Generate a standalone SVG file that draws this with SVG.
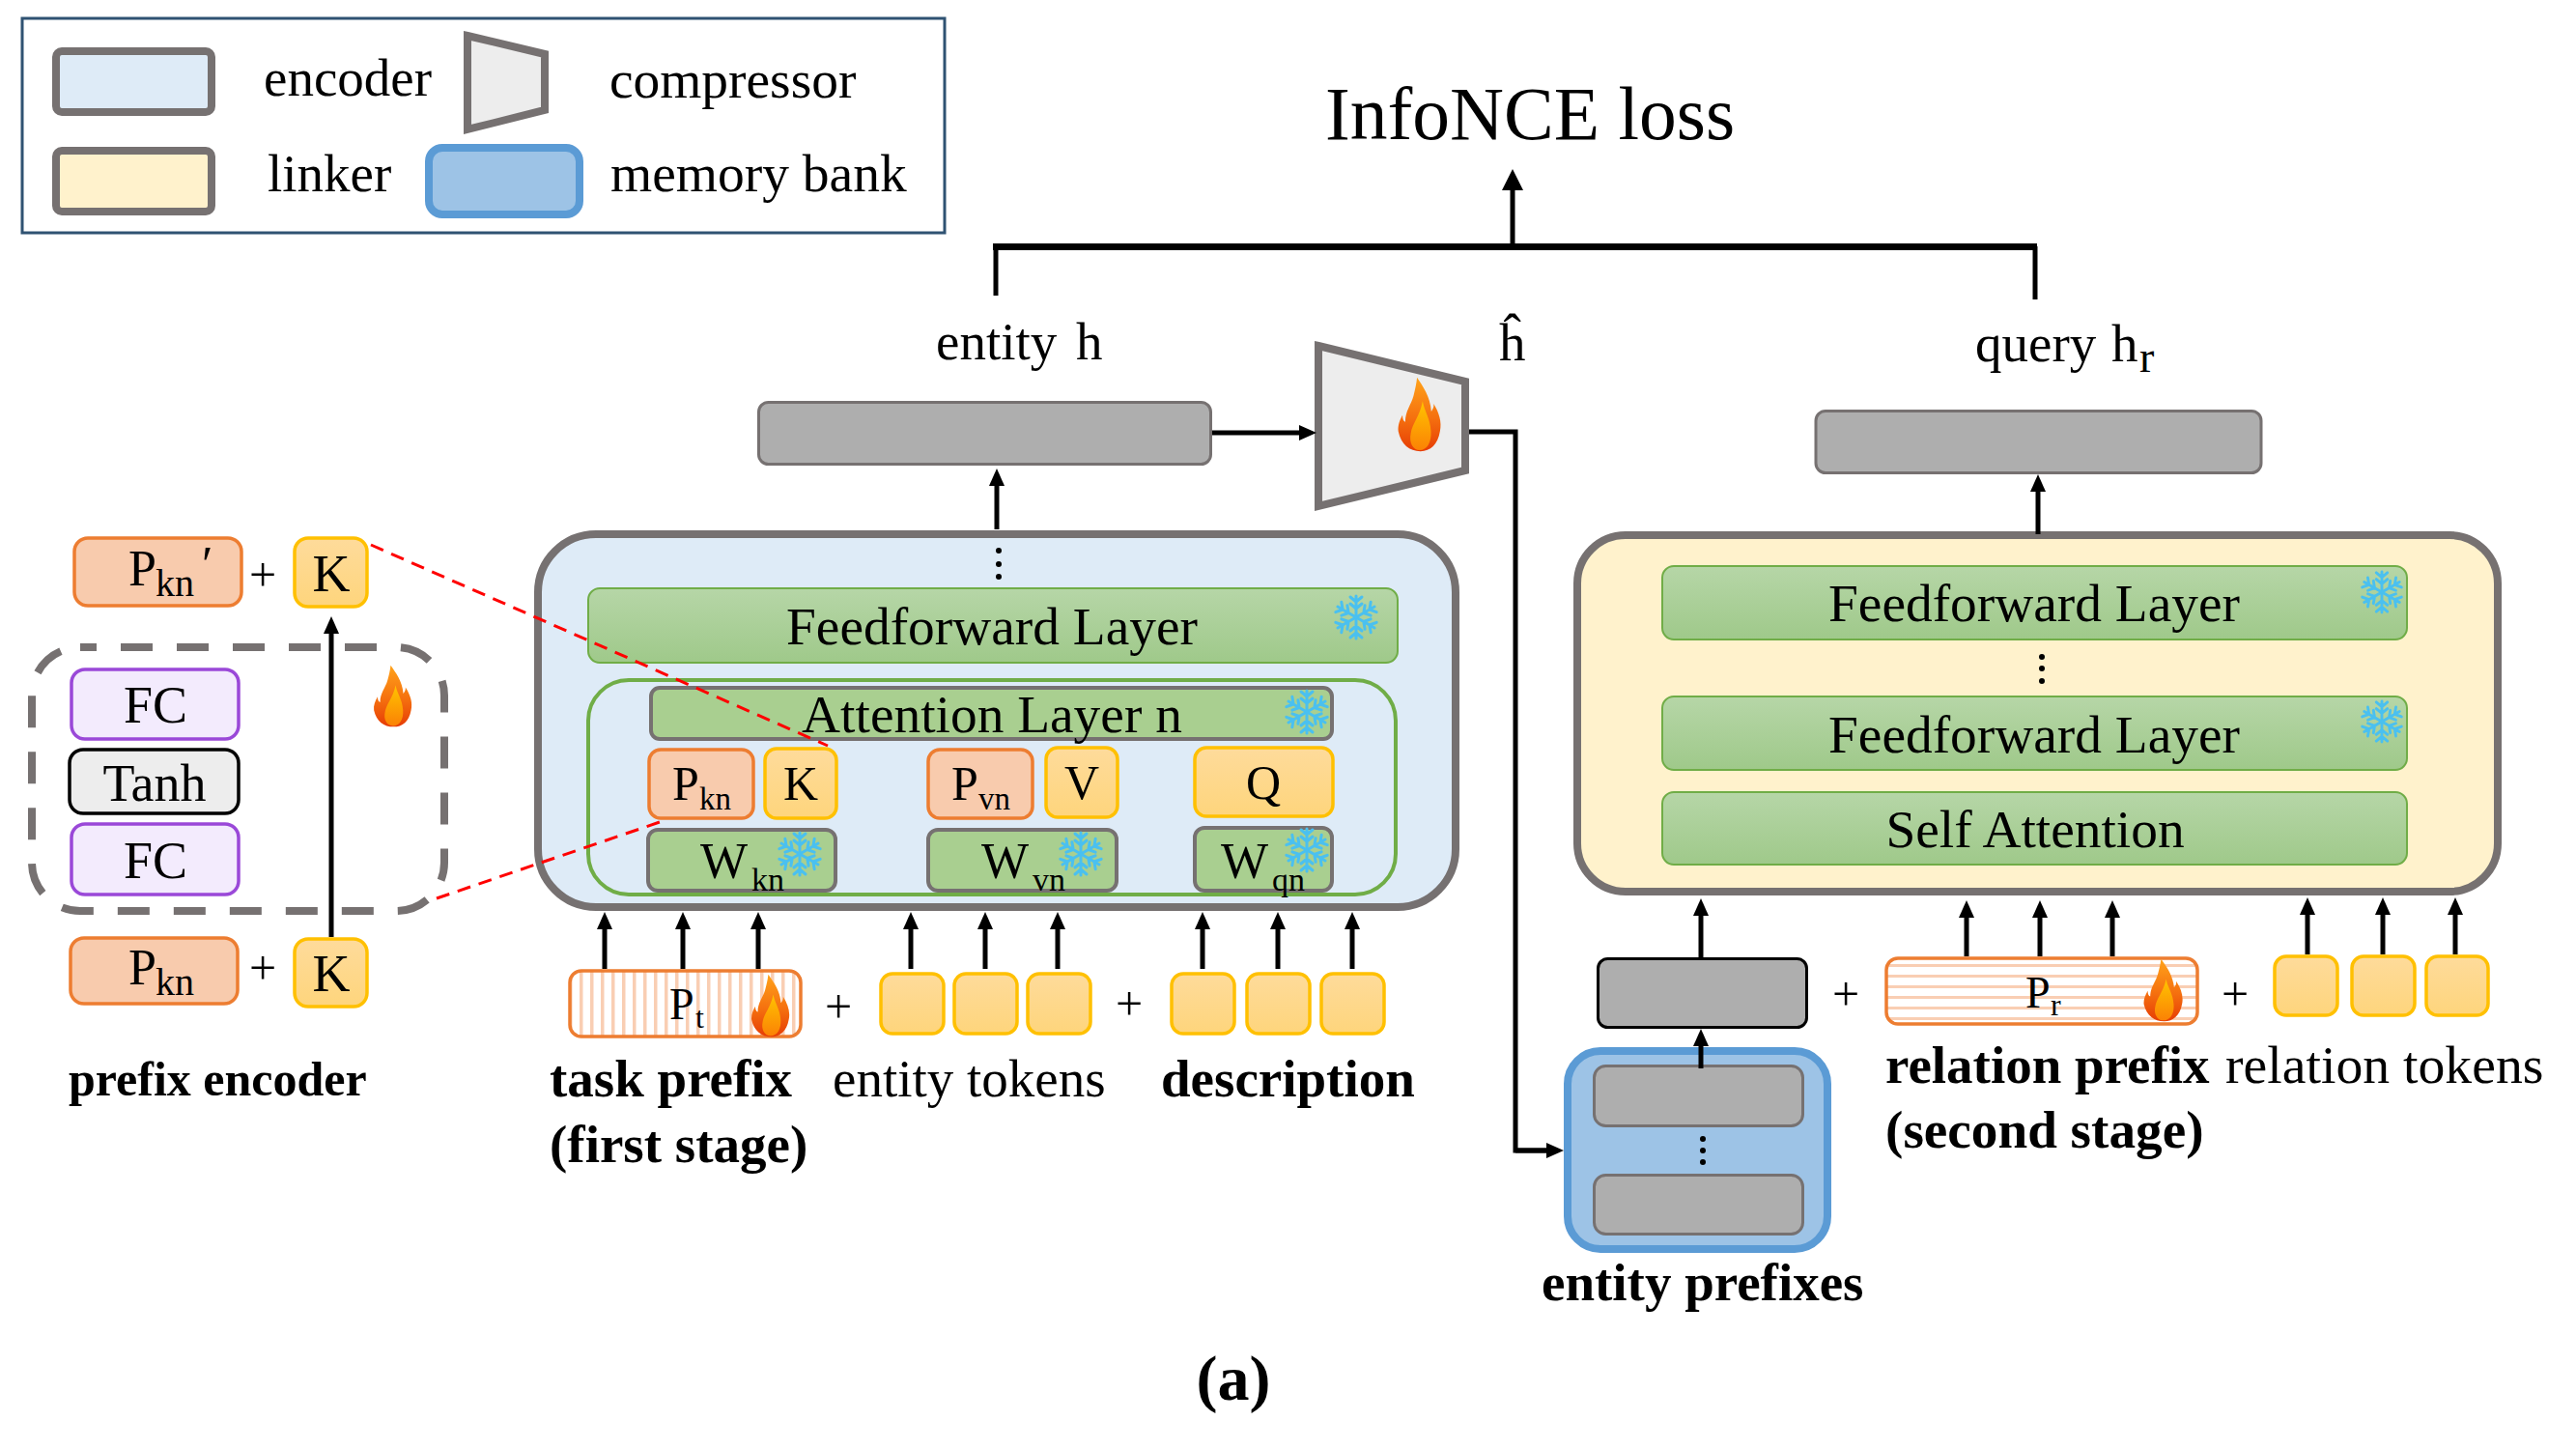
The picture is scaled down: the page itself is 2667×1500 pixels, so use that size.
<svg xmlns="http://www.w3.org/2000/svg" xmlns:xlink="http://www.w3.org/1999/xlink" width="2667" height="1500" viewBox="0 0 2667 1500">
<style>
text{font-family:"Liberation Serif","Times New Roman",serif;fill:#000}
.t55{font-size:55px}
.b{font-size:55px;font-weight:bold}
.c{text-anchor:middle}
.m{font-size:50px}
.plus{font-size:50px;text-anchor:middle}
.enc{fill:#deebf7;stroke:#767171;stroke-width:8}
.lnk{fill:#fff2cc;stroke:#767171;stroke-width:8}
.mem{fill:#9dc3e6;stroke:#5b9bd5;stroke-width:8}
.cmp{fill:#ededed;stroke:#767171;stroke-width:8}
.layer{fill:url(#green);stroke:#70ad47;stroke-width:2}
.att{fill:#a9cf90;stroke:#767171;stroke-width:4}
.pfx{fill:#f8cbad;stroke:#ed7d31;stroke-width:3.5}
.tok{fill:url(#orange);stroke:#ffc000;stroke-width:3.5}
.gray{fill:#aeaeae;stroke:#767171;stroke-width:3}
.fc{fill:#f3ebfd;stroke:#9a48d8;stroke-width:3.5}
.dot{fill:#000}
.ln{fill:none;stroke:#000;stroke-width:5}
.ah{marker-end:url(#head)}
.ahb{marker-end:url(#headb)}
.red{fill:none;stroke:#f00;stroke-width:3;stroke-dasharray:14 9}
.arm{stroke:#4ac0f0;stroke-width:3;fill:none;stroke-linecap:round}
</style>
<defs>
<linearGradient id="green" x1="0" y1="0" x2="0" y2="1"><stop offset="0" stop-color="#b6d6a7"/><stop offset="1" stop-color="#9fc98a"/></linearGradient>
<linearGradient id="orange" x1="0" y1="0" x2="0" y2="1"><stop offset="0" stop-color="#fedb9b"/><stop offset="1" stop-color="#fed57c"/></linearGradient>
<linearGradient id="fl1" x1="0" y1="0" x2="0" y2="1"><stop offset="0" stop-color="#ffa31a"/><stop offset=".55" stop-color="#f5700f"/><stop offset="1" stop-color="#e63c05"/></linearGradient>
<linearGradient id="fl2" x1="0" y1="0" x2="0" y2="1"><stop offset="0" stop-color="#ffc400"/><stop offset="1" stop-color="#fb8205"/></linearGradient>
<pattern id="vs" patternUnits="userSpaceOnUse" x="600" y="0" width="11" height="11"><rect width="11" height="11" fill="#fff"/><rect width="3.5" height="11" fill="#f9ceb3"/></pattern>
<pattern id="hs" patternUnits="userSpaceOnUse" x="0" y="998" width="11" height="11"><rect width="11" height="11" fill="#fff"/><rect width="11" height="3" fill="#f9ceb3"/></pattern>
<marker id="head" markerUnits="userSpaceOnUse" viewBox="0 0 18 16" refX="8" refY="8" markerWidth="18" markerHeight="16" orient="auto"><path d="M0,0 L18,8 L0,16 Z" fill="#000"/></marker>
<marker id="headb" markerUnits="userSpaceOnUse" viewBox="0 0 22 22" refX="10" refY="11" markerWidth="22" markerHeight="22" orient="auto"><path d="M0,0 L22,11 L0,22 Z" fill="#000"/></marker>
<symbol id="flame" viewBox="16 20 128 200" preserveAspectRatio="none">
<path fill="url(#fl1)" d="M72,22 C88,45 110,72 113,112 C118,106 121,100 120,92 C135,115 144,140 138,165 C132,200 110,218 82,218 C50,218 26,200 18,165 C16,150 22,135 30,122 C30,132 33,138 38,140 C38,110 55,95 62,70 C66,55 70,40 72,22 Z"/>
<path fill="url(#fl2)" d="M88,85 C92,110 110,130 112,165 C114,195 100,215 80,215 C60,215 48,195 54,170 C58,145 80,125 88,85 Z"/>
</symbol>
<g id="arm"><path d="M0,0 V-22 M0,-16 L-6,-21 M0,-16 L6,-21 M0,-9 L-6,-14 M0,-9 L6,-14"/></g>
<symbol id="snow" viewBox="-24 -24 48 48" overflow="visible">
<g class="arm"><use href="#arm"/><use href="#arm" transform="rotate(60)"/><use href="#arm" transform="rotate(120)"/><use href="#arm" transform="rotate(180)"/><use href="#arm" transform="rotate(240)"/><use href="#arm" transform="rotate(300)"/></g>
</symbol>
</defs>
<rect width="2667" height="1500" fill="#fff"/>

<g id="legend">
<rect x="23" y="19" width="955" height="222" fill="#fff" stroke="#2f5272" stroke-width="3"/>
<rect class="enc" x="58" y="53" width="161" height="63" rx="6"/>
<text class="t55" x="273" y="99">encoder</text>
<polygon class="cmp" points="484,37 564,56 564,114 484,134"/>
<text x="631" y="101" style="font-size:55.4px">compressor</text>
<rect class="lnk" x="58" y="156" width="161" height="63" rx="6"/>
<text class="t55" x="277" y="198">linker</text>
<rect class="mem" x="444" y="153" width="156" height="69" rx="14"/>
<text x="632" y="198" style="font-size:55.5px">memory bank</text>
</g>

<g id="loss"><text x="1372" y="144" style="font-size:77.5px">InfoNCE loss</text></g>
<g id="entity-label"><text class="t55" x="969" y="372">entity</text><text class="t55" x="1114" y="372">h</text></g>
<g id="hhat-label"><text class="t55" x="1552" y="373">ĥ</text></g>
<g id="query-label"><text class="t55" x="2045" y="374">query</text><text class="t55" x="2186" y="374">h<tspan x="2215" y="385" style="font-size:46px">r</tspan></text></g>

<g id="entity-output"><rect class="gray" x="785.5" y="416.5" width="468" height="64" rx="10"/></g>
<g id="compressor"><polygon class="cmp" points="1365,358 1517,395 1517,487 1365,524"/><use href="#flame" x="1447" y="390" width="46" height="78"/></g>
<g id="query-output"><rect class="gray" x="1880" y="425.5" width="461" height="64" rx="10"/></g>

<g id="encoder">
<rect class="enc" x="557" y="553" width="950" height="386" rx="60"/>
<circle class="dot" cx="1034" cy="570" r="3"/><circle class="dot" cx="1034" cy="584" r="3"/><circle class="dot" cx="1034" cy="597" r="3"/>
<g id="enc-ff"><rect class="layer" x="609" y="609" width="838" height="77" rx="12"/>
<text class="c" x="1027" y="667" style="font-size:55.4px">Feedforward Layer</text>
<use href="#snow" x="1380" y="615" width="48" height="48"/></g>
<rect x="609" y="704" width="836" height="222" rx="42" fill="none" stroke="#70ad47" stroke-width="4"/>
<g id="enc-att"><rect class="att" x="674" y="712" width="705" height="53" rx="9"/>
<text class="c" x="1027" y="758" style="font-size:55.4px">Attention Layer n</text>
<use href="#snow" x="1329" y="713" width="48" height="48"/></g>
<g id="enc-pkn"><rect class="pfx" x="672" y="776" width="108" height="71" rx="12"/><text class="m" x="696" y="828">P<tspan x="724" y="838" style="font-size:33px">kn</tspan></text></g>
<g id="enc-k"><rect class="tok" x="792" y="775" width="74" height="72" rx="12"/><text class="m c" x="829" y="828">K</text></g>
<g id="enc-pvn"><rect class="pfx" x="961" y="776" width="108" height="71" rx="12"/><text class="m" x="985" y="828">P<tspan x="1013" y="838" style="font-size:33px">vn</tspan></text></g>
<g id="enc-v"><rect class="tok" x="1083" y="774" width="74" height="72" rx="12"/><text class="m c" x="1120" y="827">V</text></g>
<g id="enc-q"><rect class="tok" x="1237" y="774" width="143" height="71" rx="12"/><text class="m c" x="1308" y="827">Q</text></g>
<g id="enc-wkn"><rect class="att" x="671" y="859" width="194" height="63" rx="10"/><text class="m" x="725" y="909" style="font-size:52px">W<tspan x="778" y="922" style="font-size:34px">kn</tspan></text><use href="#snow" x="804" y="860" width="48" height="48"/></g>
<g id="enc-wvn"><rect class="att" x="961" y="859" width="195" height="63" rx="10"/><text class="m" x="1016" y="909" style="font-size:52px">W<tspan x="1069" y="922" style="font-size:34px">vn</tspan></text><use href="#snow" x="1095" y="860" width="48" height="48"/></g>
<g id="enc-wqn"><rect class="att" x="1237" y="857" width="142" height="65" rx="10"/><text class="m" x="1264" y="909" style="font-size:52px">W<tspan x="1317" y="922" style="font-size:34px">qn</tspan></text><use href="#snow" x="1329" y="856" width="48" height="48"/></g>
</g>

<g id="task-prefix"><rect x="590" y="1005" width="239" height="68" rx="12" fill="url(#vs)" stroke="#ed7d31" stroke-width="3.5"/>
<text x="693" y="1055" style="font-size:46px">P<tspan x="720" y="1064" style="font-size:32px">t</tspan></text>
<use href="#flame" x="777.5" y="1008" width="41" height="66"/></g>
<text class="plus" x="868" y="1059">+</text>
<g id="entity-tokens"><rect class="tok" x="912" y="1008" width="65" height="62" rx="12"/><rect class="tok" x="988" y="1008" width="65" height="62" rx="12"/><rect class="tok" x="1064" y="1008" width="65" height="62" rx="12"/></g>
<text class="plus" x="1169" y="1056">+</text>
<g id="desc-tokens"><rect class="tok" x="1213" y="1008" width="65" height="62" rx="12"/><rect class="tok" x="1291" y="1008" width="65" height="62" rx="12"/><rect class="tok" x="1368" y="1008" width="65" height="62" rx="12"/></g>
<text class="b" x="569" y="1135">task prefix</text>
<text class="b" x="569" y="1203">(first stage)</text>
<text class="t55" x="862" y="1135">entity tokens</text>
<text class="b" x="1202" y="1135">description</text>

<g id="prefix-encoder">
<g id="pkn-prime"><rect class="pfx" x="77" y="557" width="173" height="70" rx="14"/><text style="font-size:52px" x="133" y="606">P<tspan x="161" y="617" style="font-size:40px">kn</tspan><tspan x="209" y="602">′</tspan></text></g>
<text class="plus" x="272" y="612">+</text>
<g id="k-top"><rect class="tok" x="305" y="557" width="75" height="71" rx="14"/><text class="c" x="343" y="612" style="font-size:54px">K</text></g>
<rect x="33" y="670" width="427" height="273" rx="50" fill="none" stroke="#767171" stroke-width="8" stroke-dasharray="33 25" stroke-dashoffset="16"/>
<g id="fc1"><rect class="fc" x="74" y="693" width="173" height="72" rx="14"/><text class="c" x="161" y="748" style="font-size:54px">FC</text></g>
<g id="tanh"><rect x="72" y="776" width="175" height="66" rx="14" fill="#ededed" stroke="#000" stroke-width="3.5"/><text class="c" x="160" y="829" style="font-size:54px">Tanh</text></g>
<g id="fc2"><rect class="fc" x="74" y="853" width="173" height="73" rx="14"/><text class="c" x="161" y="909" style="font-size:54px">FC</text></g>
<use href="#flame" x="386.5" y="688" width="41" height="65"/>
<g id="pkn-low"><rect class="pfx" x="73" y="971" width="173" height="68" rx="14"/><text style="font-size:52px" x="133" y="1019">P<tspan x="161" y="1030" style="font-size:40px">kn</tspan></text></g>
<text class="plus" x="272" y="1019">+</text>
<g id="k-low"><rect class="tok" x="305" y="972" width="75" height="70" rx="14"/><text class="c" x="343" y="1026" style="font-size:54px">K</text></g>
<text x="71" y="1134" style="font-size:50px;font-weight:bold">prefix encoder</text>
</g>

<g id="linker">
<rect class="lnk" x="1633" y="554" width="953" height="369" rx="50"/>
<g id="lnk-ff1"><rect class="layer" x="1721" y="586" width="771" height="76" rx="12"/><text class="c" x="2106" y="643" style="font-size:55.4px">Feedforward Layer</text><use href="#snow" x="2443" y="590" width="46" height="46"/></g>
<circle class="dot" cx="2114" cy="680" r="3"/><circle class="dot" cx="2114" cy="692" r="3"/><circle class="dot" cx="2114" cy="705" r="3"/>
<g id="lnk-ff2"><rect class="layer" x="1721" y="721" width="771" height="76" rx="12"/><text class="c" x="2106" y="779" style="font-size:55.4px">Feedforward Layer</text><use href="#snow" x="2443" y="724" width="46" height="46"/></g>
<g id="lnk-sa"><rect class="layer" x="1721" y="820" width="771" height="75" rx="12"/><text class="c" x="2107" y="877" style="font-size:55.4px">Self Attention</text></g>
</g>

<g id="entity-prefix-top"><rect x="1654.5" y="992.5" width="216" height="71" rx="10" fill="#aeaeae" stroke="#000" stroke-width="3"/></g>
<text class="plus" x="1911" y="1046">+</text>
<g id="relation-prefix"><rect x="1953" y="992" width="322" height="68" rx="12" fill="url(#hs)" stroke="#ed7d31" stroke-width="3.5"/>
<text x="2097" y="1043" style="font-size:46px">P<tspan x="2123" y="1051" style="font-size:32px">r</tspan></text>
<use href="#flame" x="2219" y="992" width="42" height="66"/></g>
<text class="plus" x="2314" y="1046">+</text>
<g id="relation-tokens"><rect class="tok" x="2355" y="990" width="65" height="61" rx="12"/><rect class="tok" x="2435" y="990" width="65" height="61" rx="12"/><rect class="tok" x="2512" y="990" width="64" height="61" rx="12"/></g>
<text class="b" x="1952" y="1121">relation prefix</text>
<text x="1952" y="1188" style="font-size:55.2px;font-weight:bold">(second stage)</text>
<text x="2304" y="1121" style="font-size:55.7px">relation tokens</text>

<g id="memory-bank">
<rect class="mem" x="1623" y="1088" width="269" height="205" rx="34"/>
<rect class="gray" x="1650.5" y="1103.5" width="216" height="62" rx="12"/>
<circle class="dot" cx="1763" cy="1179" r="3"/><circle class="dot" cx="1763" cy="1191" r="3"/><circle class="dot" cx="1763" cy="1203" r="3"/>
<rect class="gray" x="1650.5" y="1216.5" width="216" height="61" rx="12"/>
<text class="b" x="1596" y="1346">entity prefixes</text>
</g>
<text x="1277" y="1449" class="c" style="font-size:66px;font-weight:bold">(a)</text>

<g id="connectors">
<path class="ln" style="stroke-width:7" d="M1028,255.5 H2109"/>
<path class="ln" d="M1031,255 V306"/>
<path class="ln" d="M2107,255 V310"/>
<path class="ln ahb" d="M1566,253 V187"/>
<path class="ln ah" d="M1255,448 H1353"/>
<path class="ln" d="M1521,447 H1569 V1191 H1610"/>
<path class="ln ah" d="M1569,1191 H1609"/>
<path class="ln ah" d="M1032,548 V495"/>
<path class="ln ah" d="M2110,553 V501"/>
<path class="ln ah" d="M343,970 V648"/>
<path class="ln ah" d="M626,1003 V954"/><path class="ln ah" d="M707,1003 V954"/><path class="ln ah" d="M785,1003 V954"/>
<path class="ln ah" d="M943,1003 V954"/><path class="ln ah" d="M1020,1003 V954"/><path class="ln ah" d="M1095,1003 V954"/>
<path class="ln ah" d="M1245,1003 V954"/><path class="ln ah" d="M1323,1003 V954"/><path class="ln ah" d="M1400,1003 V954"/>
<path class="ln ah" d="M1761,991 V940"/>
<path class="ln ah" d="M2036,990 V942"/><path class="ln ah" d="M2112,990 V942"/><path class="ln ah" d="M2187,990 V942"/>
<path class="ln ah" d="M2389,988 V939"/><path class="ln ah" d="M2467,988 V939"/><path class="ln ah" d="M2542,988 V939"/>
<path class="ln ah" d="M1761,1106 V1075"/>
<path class="red" d="M384,564 L857,772"/>
<path class="red" d="M452,930 L683,851"/>
</g>
</svg>
